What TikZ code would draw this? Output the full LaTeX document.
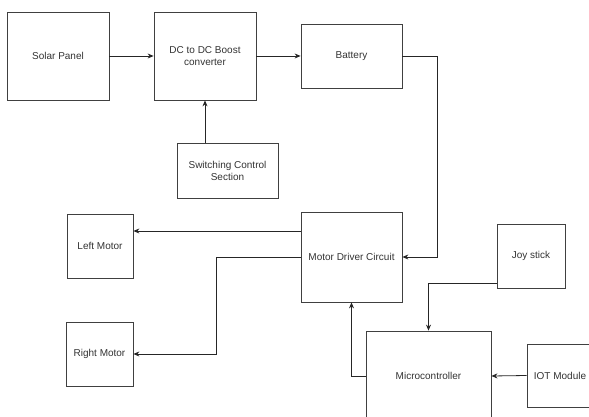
\documentclass[tikz,border=0pt]{standalone}
\usepackage{fontspec}
\setmainfont{Liberation Sans}
\usetikzlibrary{arrows.meta}
\begin{document}
\begin{tikzpicture}[x=1pt,y=-1pt,
	block/.style={draw=black!75,line width=0.8pt,align=center,inner sep=0pt,text=black!80,font=\fontsize{10}{12}\selectfont},
	arr/.style={draw=black!85,line width=0.8pt,-{Stealth[length=6pt,width=5pt]}}]
	\useasboundingbox (0,0) rectangle (589,417);
	\clip (0,0) rectangle (589,417);
	\fill [white] (0,0) rectangle (589,417);
	\node [block,minimum width=102pt,minimum height=88pt] (solar) at (58,56) {Solar Panel};
	\node [block,minimum width=102pt,minimum height=88pt] (dcdc) at (205,56) {DC to DC Boost\\converter};
	\node [block,minimum width=101pt,minimum height=64pt] (battery) at (351.5,56) {Battery};
	\node [block,minimum width=101pt,minimum height=55pt] (switch) at (227.5,170.5) {Switching Control\\Section};
	\node [block,minimum width=101pt,minimum height=90pt] (driver) at (351.5,257) {Motor Driver Circuit};
	\node [block,minimum width=66pt,minimum height=64pt] (left) at (100,246) {Left Motor};
	\node [block,minimum width=67pt,minimum height=64pt] (right) at (99.5,354) {Right Motor};
	\node [block,minimum width=68pt,minimum height=64pt] (joy) at (531,256) {Joy stick};
	\node [block,minimum width=125pt,minimum height=90pt] (micro) at (428.5,376) {Microcontroller};
	\node [block,minimum width=66pt,minimum height=63pt] (iot) at (560,375.5) {IOT Module};
	\draw [arr] (solar.east) -- (dcdc.west);
	\draw [arr] (dcdc.east) -- (battery.west);
	\draw [arr] (switch.north -| dcdc.south) -- (dcdc.south);
	\draw [arr] (battery.east) -- ++(35,0) |- (driver.east);
	\draw [arr] ([yshift=26pt]driver.west) -- ([yshift=26pt]driver.west -| left.east);
	\draw [arr] (driver.west) -- ++(-84,0) |- (right.east);
	\draw [arr] ([yshift=-27pt]joy.west) -| (micro.north);
	\draw [arr] (micro.west) -| (driver.south);
	\draw [arr] (iot.west) -- (micro.east);
\end{tikzpicture}
\end{document}
